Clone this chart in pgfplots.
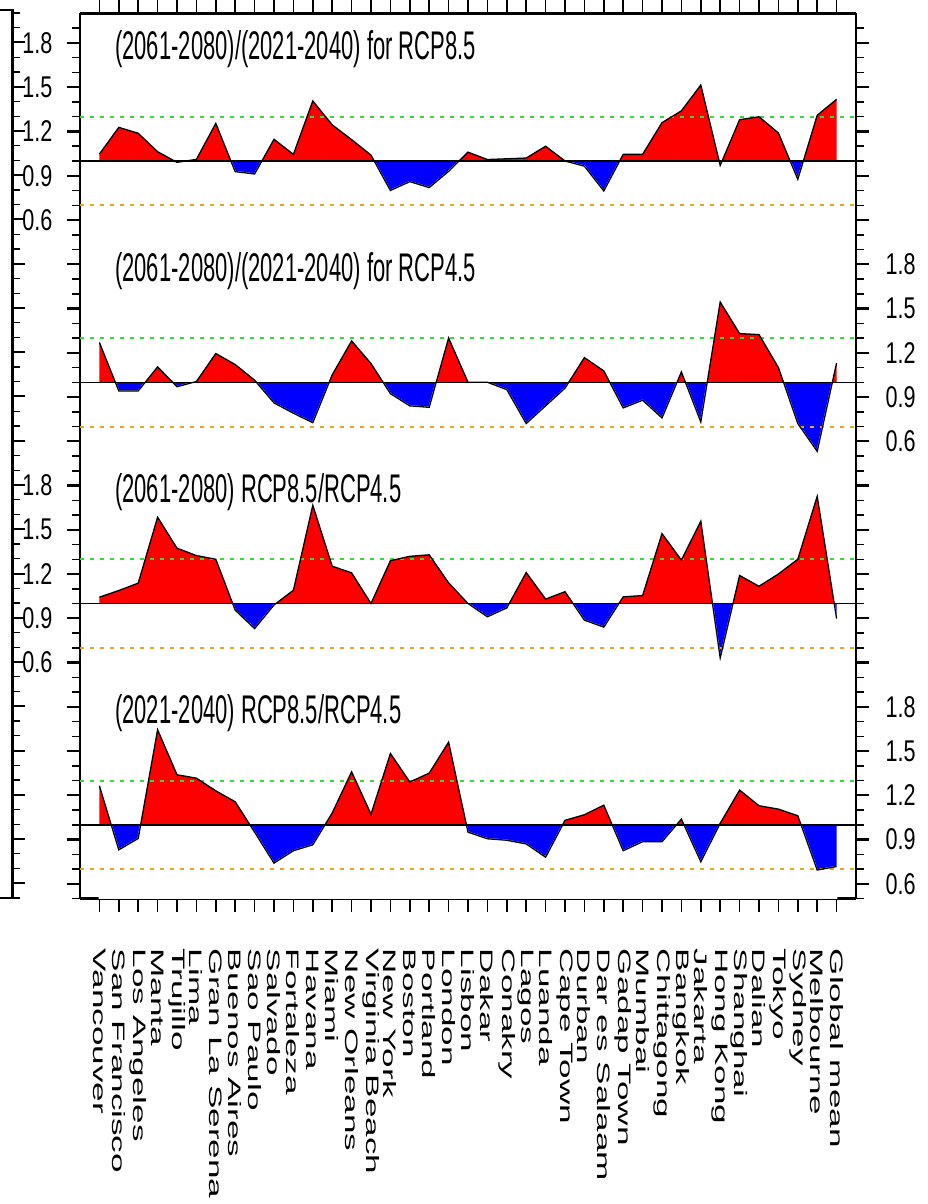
\documentclass[border=0pt]{standalone}
\usepackage{pgfplots}
\pgfplotsset{compat=1.18}
\usepackage{pgfplotstable}
\usepackage{fontspec}
\setmainfont{Liberation Sans}
\newfontfamily\titlefam[FakeStretch=0.55]{Liberation Sans}
\newfontfamily\tickfam[FakeStretch=0.72]{Liberation Sans}
\newfontfamily\cityfam[FakeStretch=1.95]{Liberation Sans}
\definecolor{gline}{RGB}{60,215,60}
\definecolor{oline}{RGB}{232,165,40}

\pgfplotstableread{
x p1 p2 p3 p4
0 1.047 1.270 1.043 1.264
1 1.228 0.941 1.088 0.830
2 1.188 0.941 1.138 0.907
3 1.063 1.104 1.585 1.644
4 0.991 0.970 1.375 1.339
5 1.011 1.005 1.325 1.316
6 1.255 1.195 1.300 1.230
7 0.928 1.120 0.955 1.156
8 0.912 1.014 0.830 0.950
9 1.147 0.860 0.990 0.740
10 1.045 0.790 1.090 0.824
11 1.407 0.726 1.666 0.864
12 1.245 1.050 1.253 1.080
13 1.145 1.280 1.208 1.359
14 1.040 1.127 1.000 1.072
15 0.800 0.923 1.290 1.483
16 0.860 0.840 1.320 1.290
17 0.820 0.830 1.330 1.350
18 0.930 1.300 1.140 1.560
19 1.060 1.000 1.000 0.950
20 1.010 1.000 0.910 0.905
21 1.015 0.950 0.970 0.895
22 1.020 0.720 1.210 0.870
23 1.100 0.840 1.030 0.780
24 1.000 0.960 1.080 1.030
25 0.965 1.167 0.887 1.068
26 0.797 1.077 0.840 1.133
27 1.045 0.826 1.045 0.824
28 1.045 0.878 1.054 0.885
29 1.260 0.758 1.474 0.885
30 1.340 1.070 1.294 1.038
31 1.515 0.731 1.558 0.749
32 0.970 1.544 0.631 1.010
33 1.280 1.330 1.190 1.235
34 1.300 1.323 1.117 1.129
35 1.190 1.100 1.200 1.106
36 0.876 0.720 1.300 1.061
37 1.310 0.532 1.727 0.693
38 1.418 1.131 0.898 0.717
}\data

\pgfplotsset{
  panel/.style={
    scale only axis, width=776pt, height=221.25pt,
    xmin=-1, xmax=39, ymin=0.5, ymax=2.0, enlargelimits=false,
    every non boxed x axis/.style={},
    every non boxed y axis/.style={},
    axis y line=box, ytick pos=both,
    tick align=outside,
    ytick={0.6,0.9,1.2,1.5,1.8}, yticklabels={0.6,0.9,1.2,1.5,1.8},
    minor ytick={0.5,0.7,0.8,1.0,1.1,1.3,1.4,1.6,1.7,1.9},
    major tick length=13pt, minor tick length=8pt,
    axis line style={line width=2.5pt,-},
    every major tick/.append style={line width=2.2pt, black},
    every minor tick/.append style={line width=1.5pt, black},
    every x tick/.append style={line width=1.5pt},
    yticklabel style={font=\tickfam\fontsize{30}{30}\selectfont},
    anchor=north west,
  },
  leftlab/.style={yticklabel pos=left, yticklabel style={xshift=-11pt}},
  rightlab/.style={yticklabel pos=right, yticklabel style={xshift=13pt}},
}
\tikzset{ttl/.style={anchor=base west, inner sep=0pt, font=\titlefam\fontsize{40}{40}\selectfont}}

% #1 = column name
\newcommand{\panelbody}[1]{%
  \begin{scope}
    \clip (axis cs:-1,1) rectangle (axis cs:39,2.5);
    \addplot[fill=red, draw=none] table[x=x, y=#1] {\data} \closedcycle;
  \end{scope}
  \begin{scope}
    \clip (axis cs:0,0) rectangle (axis cs:38,1);
    \addplot[fill=blue, draw=none] coordinates {(0,1) (38,1)} \closedcycle;
  \end{scope}
  \begin{scope}
    \clip (axis cs:-1,0) rectangle (axis cs:39,1);
    \addplot[fill=white, draw=white, line width=1.4pt] table[x=x, y=#1] {\data} \closedcycle;
  \end{scope}
  \addplot[gline, line width=2pt, dash pattern=on 4pt off 6pt] coordinates {(-1,1.3) (39,1.3)};
  \addplot[oline, line width=2pt, dash pattern=on 4pt off 6pt] coordinates {(-1,0.7) (39,0.7)};
  \addplot[black, line width=1.5pt] coordinates {(-1,1) (39,1)};
  \addplot[black, line width=1.3pt] table[x=x, y=#1] {\data};
}

\begin{document}
\begin{tikzpicture}

% cropped neighbour frame at the far left
\begin{axis}[scale only axis, width=20pt, height=888pt, at={(-7.5pt,-10pt)}, anchor=north west,
  xmin=0, xmax=1, ymin=0, ymax=6.0203, xtick=\empty,
  ytick={0.1,0.4,0.7,1.0,1.3,1.6,1.9,2.2,2.5,2.8,3.1,3.4,3.7,4.0,4.3,4.6,4.9,5.2,5.5,5.8},
  minor ytick={0,0.1,...,6}, yticklabels={}, ytick pos=right, tick align=outside,
  major tick length=13pt, minor tick length=8pt,
  axis line style={line width=2.2pt},
  every major tick/.append style={line width=2pt, black},
  every minor tick/.append style={line width=1.3pt, black}]
\end{axis}

% top tick strip above panel 1
\begin{axis}[scale only axis, width=776pt, height=12pt, at={(80pt,-13.5pt)}, anchor=south west,
  xmin=-1, xmax=39, ymin=0, ymax=1, enlargelimits=false, clip=false,
  hide axis]
  \addplot[ycomb, black, line width=1.4pt, mark=none] table[x=x, y expr=1] {\data};
\end{axis}

% panel 1
\begin{axis}[panel, leftlab, at={(80pt,-13.5pt)}, axis x line=top, xtick pos=upper,
  xtick={0,...,38}, xticklabels={}]
  \panelbody{p1}
  \node[ttl] at (rel axis cs:0.0451,0.79) {(2061-2080)/(2021-2040) for RCP8.5};
\end{axis}

% panel 2
\begin{axis}[panel, rightlab, at={(80pt,-234.75pt)}, axis x line=none, xtick=\empty]
  \panelbody{p2}
  \node[ttl] at (rel axis cs:0.0451,0.79) {(2061-2080)/(2021-2040) for RCP4.5};
\end{axis}

% panel 3
\begin{axis}[panel, leftlab, at={(80pt,-456pt)}, axis x line=none, xtick=\empty]
  \panelbody{p3}
  \node[ttl] at (rel axis cs:0.0451,0.79) {(2061-2080) RCP8.5/RCP4.5};
\end{axis}

% panel 4
\begin{axis}[panel, rightlab, at={(80pt,-677.25pt)}, axis x line=bottom, xtick={0,...,38},
  xticklabels={Vancouver,San Francisco,Los Angeles,Manta,Trujillo,Lima,Gran La Serena,Buenos Aires,Sao Paulo,Salvado,Fortaleza,Havana,Miami,New Orleans,Virginia Beach,New York,Boston,Portland,London,Lisbon,Dakar,Conakry,Lagos,Luanda,Cape Town,Durban,Dar es Salaam,Gadap Town,Mumbai,Chittagong,Bangkok,Jakarta,Hong Kong,Shanghai,Dalian,Tokyo,Sydney,Melbourne,Global mean},
  xticklabel style={font=\cityfam\fontsize{18}{18}\selectfont, rotate=-90, anchor=west, inner sep=0pt},
  xticklabel shift=37pt]
  \panelbody{p4}
  \node[ttl] at (rel axis cs:0.0451,0.79) {(2021-2040) RCP8.5/RCP4.5};
\end{axis}

\pgfresetboundingbox
\path[use as bounding box] (0,0) rectangle (928pt,-1204pt);
\end{tikzpicture}
\end{document}
